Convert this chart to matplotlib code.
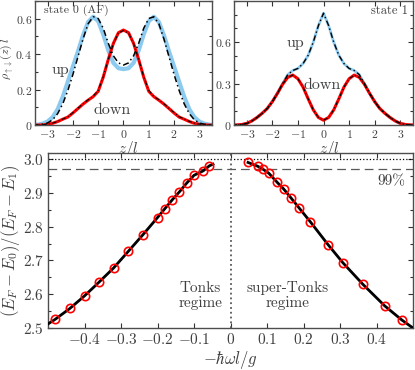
import matplotlib

matplotlib.use("Agg")
import matplotlib.pyplot as plt
import numpy as np
from matplotlib.ticker import FuncFormatter, MultipleLocator, FixedLocator

plt.rcParams["font.family"] = "serif"
plt.rcParams["font.serif"] = ["cmr10"]
plt.rcParams["mathtext.fontset"] = "cm"
plt.rcParams["axes.formatter.use_mathtext"] = True

# density profiles on a z/l grid from -3.6 to 3.6 (step 0.2)
Z = np.linspace(-3.6, 3.6, 37)

s0_up_afm = [0.0, 0.002, 0.008, 0.02, 0.045, 0.09, 0.16, 0.245, 0.33, 0.415, 0.505, 0.58, 0.61,
             0.585, 0.51, 0.42, 0.35, 0.32, 0.315, 0.32, 0.35, 0.42, 0.51, 0.585, 0.61, 0.58,
             0.505, 0.415, 0.33, 0.245, 0.16, 0.09, 0.045, 0.02, 0.008, 0.002, 0.0]
s0_up_exact = [0.0, 0.001, 0.004, 0.012, 0.03, 0.065, 0.12, 0.195, 0.285, 0.385, 0.485, 0.57, 0.61,
               0.60, 0.545, 0.46, 0.39, 0.35, 0.338, 0.35, 0.39, 0.46, 0.545, 0.60, 0.61, 0.57,
               0.485, 0.385, 0.285, 0.195, 0.12, 0.065, 0.03, 0.012, 0.004, 0.001, 0.0]
s0_down_afm = [0.0, 0.0, 0.001, 0.004, 0.01, 0.02, 0.033, 0.045, 0.068, 0.093, 0.118, 0.14, 0.16,
               0.19, 0.27, 0.37, 0.46, 0.52, 0.535, 0.52, 0.46, 0.37, 0.27, 0.19, 0.16, 0.14,
               0.118, 0.093, 0.068, 0.045, 0.033, 0.02, 0.01, 0.004, 0.001, 0.0, 0.0]
s0_down_exact = [0.0, 0.0, 0.002, 0.005, 0.011, 0.021, 0.034, 0.047, 0.07, 0.095, 0.12, 0.142, 0.162,
                 0.195, 0.272, 0.37, 0.458, 0.518, 0.533, 0.518, 0.458, 0.37, 0.272, 0.195, 0.162, 0.142,
                 0.12, 0.095, 0.07, 0.047, 0.034, 0.021, 0.011, 0.005, 0.002, 0.0, 0.0]

s1_up = [0.0, 0.001, 0.004, 0.012, 0.03, 0.055, 0.085, 0.12, 0.17, 0.23, 0.30, 0.365, 0.395,
         0.41, 0.445, 0.505, 0.60, 0.72, 0.81, 0.72, 0.60, 0.505, 0.445, 0.41, 0.395, 0.365,
         0.30, 0.23, 0.17, 0.12, 0.085, 0.055, 0.03, 0.012, 0.004, 0.001, 0.0]
s1_down = [0.0, 0.001, 0.004, 0.012, 0.03, 0.055, 0.085, 0.12, 0.17, 0.23, 0.295, 0.345, 0.362,
           0.335, 0.275, 0.19, 0.11, 0.055, 0.035, 0.055, 0.11, 0.19, 0.275, 0.335, 0.362, 0.345,
           0.295, 0.23, 0.17, 0.12, 0.085, 0.055, 0.03, 0.012, 0.004, 0.001, 0.0]

# energy ratio vs -hbar*omega*l/g
tonks_x = [-0.48, -0.44, -0.40, -0.36, -0.32, -0.28, -0.24, -0.20, -0.18, -0.16, -0.14,
           -0.12, -0.10, -0.075, -0.058]
tonks_y = [2.526, 2.558, 2.595, 2.636, 2.678, 2.727, 2.776, 2.827, 2.853, 2.879, 2.903,
           2.929, 2.952, 2.965, 2.980]
stonks_x = [0.048, 0.074, 0.089, 0.105, 0.128, 0.146, 0.165, 0.189, 0.219, 0.267, 0.308,
            0.363, 0.422, 0.469]
stonks_y = [2.990, 2.979, 2.970, 2.958, 2.931, 2.911, 2.886, 2.854, 2.814, 2.747, 2.693,
            2.629, 2.566, 2.524]
tonks_line_x = [-0.50] + tonks_x + [-0.048]
tonks_line_y = [2.512] + tonks_y + [2.985]
stonks_line_x = stonks_x + [0.50]
stonks_line_y = stonks_y + [2.500]

BLUE = "#8ccaf0"
RED = "#ff0000"
TXT = "0.25"
DASHDOT = (0, (4, 2, 1, 2))


def fmt_g(v, pos):
    v = round(v, 6) + 0.0
    return f"${v:g}$"


def fmt_1(v, pos):
    v = round(v, 6) + 0.0
    return f"${v:.1f}$"


def style(ax, size, pad=3):
    ax.tick_params(which="both", direction="in", top=True, right=True, colors="0.2",
                   labelcolor=TXT, labelsize=size, width=0.8, pad=pad)
    ax.tick_params(which="major", length=3.5)
    ax.tick_params(which="minor", length=2)
    ax.xaxis.set_major_formatter(FuncFormatter(fmt_g))
    ax.yaxis.set_major_formatter(FuncFormatter(fmt_g))
    for sp in ax.spines.values():
        sp.set_color("0.3")
        sp.set_linewidth(1.0)


fig = plt.figure(figsize=(4.15, 3.7), dpi=100)

# state 0 (AF)
ax1 = fig.add_axes([0.0843, 0.662, 0.4265, 0.336])
ax1.plot(Z, s0_up_afm, color=BLUE, lw=3.0)
ax1.plot(Z, s0_down_afm, color=RED, lw=2.2)
ax1.plot(Z, s0_up_exact, color="black", lw=1.1, ls=DASHDOT)
ax1.plot(Z, s0_down_exact, color="black", lw=0.8, ls=DASHDOT)
ax1.set_xlim(-3.5, 3.5)
ax1.set_ylim(0, 0.7)
ax1.xaxis.set_major_locator(FixedLocator([-3, -2, -1, 0, 1, 2, 3]))
ax1.yaxis.set_major_locator(FixedLocator([0, 0.2, 0.4, 0.6]))
ax1.yaxis.set_minor_locator(MultipleLocator(0.1))
style(ax1, 8.5, pad=2)
ax1.set_xlabel(r"$z/l$", fontsize=11, color=TXT)
ax1.xaxis.set_label_coords(0.53, -0.115)
ax1.set_ylabel(r"$\rho_{\uparrow\downarrow}(z)\,l$", fontsize=8.5, color=TXT)
ax1.yaxis.set_label_coords(-0.11, 0.53)
ax1.text(0.05, 0.97, "state 0 (AF)", transform=ax1.transAxes, fontsize=8.5, color=TXT,
         ha="left", va="top")
ax1.text(-2.5, 0.31, "up", fontsize=11.5, color=TXT, ha="center", va="center")
ax1.text(-0.45, 0.085, "down", fontsize=11.5, color=TXT, ha="center", va="center")

# state 1
ax2 = fig.add_axes([0.5639, 0.662, 0.4313, 0.336])
ax2.plot(Z, s1_up, color=BLUE, lw=2.0)
ax2.plot(Z, s1_down, color=RED, lw=2.2)
ax2.plot(Z, s1_up, color="black", lw=1.0, ls=DASHDOT)
ax2.plot(Z, s1_down, color="black", lw=0.8, ls=DASHDOT)
ax2.set_xlim(-3.5, 3.5)
ax2.set_ylim(0, 0.9)
ax2.xaxis.set_major_locator(FixedLocator([-3, -2, -1, 0, 1, 2, 3]))
ax2.yaxis.set_major_locator(FixedLocator([0, 0.3, 0.6]))
ax2.yaxis.set_minor_locator(MultipleLocator(0.1))
style(ax2, 8.5, pad=2)
ax2.set_xlabel(r"$z/l$", fontsize=11, color=TXT)
ax2.xaxis.set_label_coords(0.53, -0.115)
ax2.text(0.97, 0.97, "state 1", transform=ax2.transAxes, fontsize=9, color=TXT,
         ha="right", va="top")
ax2.text(-1.1, 0.59, "up", fontsize=11.5, color=TXT, ha="center", va="center")
ax2.text(-0.05, 0.29, "down", fontsize=11.5, color=TXT, ha="center", va="center")

# energy ratio
ax3 = fig.add_axes([0.1157, 0.1135, 0.8795, 0.473])
ax3.axhline(3.0, color="black", lw=0.9, ls=":")
ax3.axhline(2.97, color="0.35", lw=0.9, ls=(0, (7, 4)))
ax3.axvline(0.0, color="0.35", lw=1.3, ls=":")
ax3.plot(tonks_line_x, tonks_line_y, color="black", lw=2.0, zorder=3)
ax3.plot(stonks_line_x, stonks_line_y, color="black", lw=2.0, zorder=3)
ax3.plot(tonks_x, tonks_y, "o", mfc="none", mec=RED, ms=6, mew=1.2, zorder=4)
ax3.plot(stonks_x, stonks_y, "o", mfc="none", mec=RED, ms=6, mew=1.2, zorder=4)
ax3.set_xlim(-0.5, 0.5)
ax3.set_ylim(2.5, 3.018)
ax3.xaxis.set_major_locator(FixedLocator([-0.4, -0.3, -0.2, -0.1, 0, 0.1, 0.2, 0.3, 0.4]))
ax3.yaxis.set_major_locator(FixedLocator([2.5, 2.6, 2.7, 2.8, 2.9, 3.0]))
ax3.yaxis.set_minor_locator(MultipleLocator(0.05))
style(ax3, 11)
ax3.yaxis.set_major_formatter(FuncFormatter(fmt_1))
ax3.set_xlabel(r"$-\hbar\omega l/g$", fontsize=12, color=TXT, labelpad=1)
ax3.set_ylabel(r"$(E_F-E_0)/(E_F-E_1)$", fontsize=12, color=TXT)
ax3.yaxis.set_label_coords(-0.07, 0.5)
ax3.text(-0.083, 2.595, "Tonks\nregime", fontsize=11, color=TXT, ha="center", va="center",
         multialignment="center", linespacing=1.1)
ax3.text(0.156, 2.595, "super-Tonks\nregime", fontsize=11, color=TXT, ha="center", va="center",
         multialignment="center", linespacing=1.1)
ax3.text(0.48, 2.935, "99%", fontsize=11, color=TXT, ha="right", va="center")

fig.savefig("out.png", dpi=100)
